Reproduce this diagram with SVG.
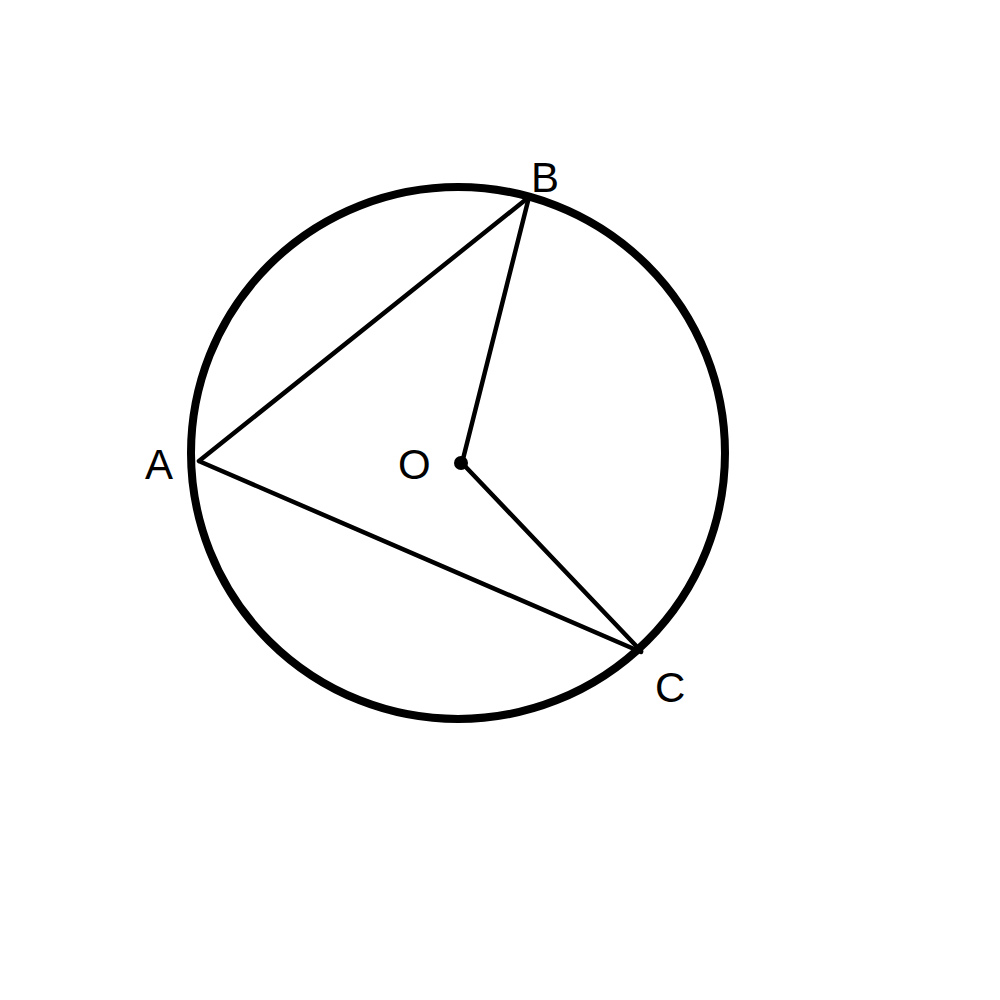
<svg xmlns="http://www.w3.org/2000/svg" width="1000" height="1000" viewBox="0 0 1000 1000">
<style>
.lbl{font-family:"Liberation Sans",Arial,sans-serif;font-size:42px;fill:#000;}
.ln{stroke:#000;stroke-width:4.5;stroke-linecap:round;fill:none;}
</style>
<rect width="1000" height="1000" fill="#fff"/>
<g id="circle"><ellipse cx="458" cy="453" rx="267" ry="266" fill="none" stroke="#000" stroke-width="8"/></g>
<g id="connectors">
<line class="ln" x1="199" y1="461" x2="529" y2="197"/>
<line class="ln" x1="529" y1="197" x2="462" y2="463"/>
<line class="ln" x1="462" y1="463" x2="641" y2="651"/>
<line class="ln" x1="201" y1="462" x2="641" y2="652"/>
</g>
<g id="O"><circle cx="461" cy="463" r="7" fill="#000"/><text class="lbl" x="398" y="479">O</text></g>
<g id="A"><text class="lbl" x="145" y="479">A</text></g>
<g id="B"><text class="lbl" x="531" y="192">B</text></g>
<g id="C"><text class="lbl" x="655" y="702">C</text></g>
</svg>
